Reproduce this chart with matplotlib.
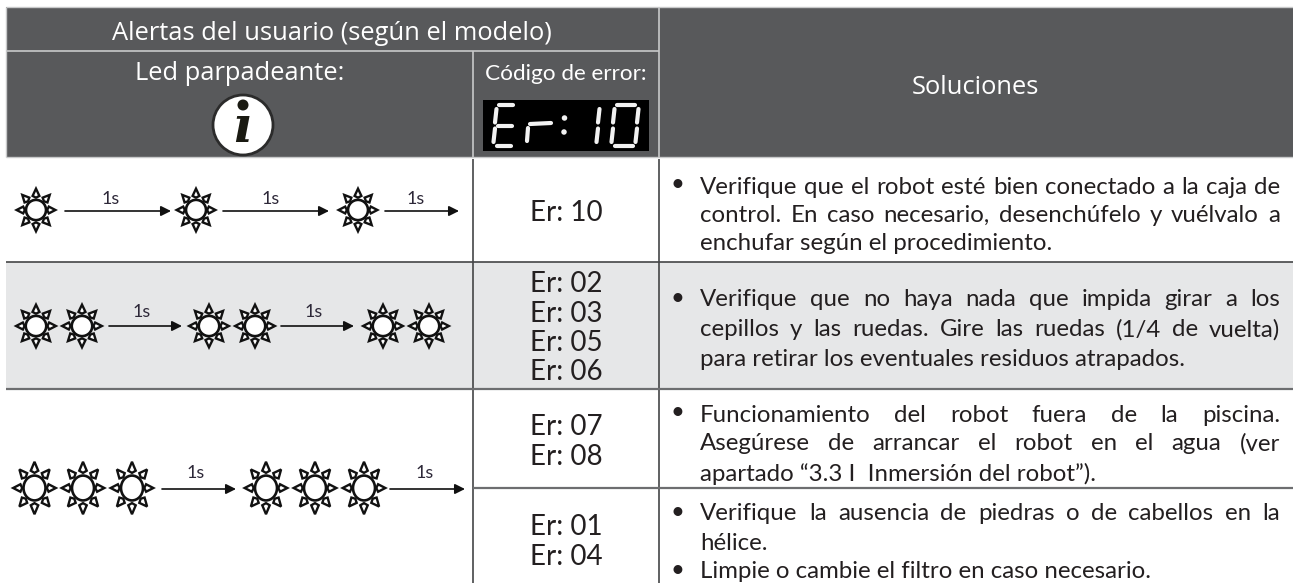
import matplotlib
matplotlib.use('Agg')
import matplotlib.pyplot as plt
from matplotlib.patches import Rectangle, Ellipse, Polygon
import numpy as np

plt.rcParams['font.family'] = ['Lato', 'DejaVu Sans']

# Teksty tabeli
header_top = 'Alertas del usuario (según el modelo)'
header_led = 'Led parpadeante:'
header_code = 'Código de error:'
header_sol = 'Soluciones'

codes_row1 = ['Er: 10']
codes_row2 = ['Er: 02', 'Er: 03', 'Er: 05', 'Er: 06']
codes_row3 = ['Er: 07', 'Er: 08']
codes_row4 = ['Er: 01', 'Er: 04']

# (tekst, wyjustowany, czy punktor)
sol_row1 = [('Verifique que el robot esté bien conectado a la caja de', True, True),
            ('control. En caso necesario, desenchúfelo y vuélvalo a', True, False),
            ('enchufar según el procedimiento.', False, False)]
sol_row2 = [('Verifique que no haya nada que impida girar a los', True, True),
            ('cepillos y las ruedas. Gire las ruedas (1/4 de vuelta)', True, False),
            ('para retirar los eventuales residuos atrapados.', False, False)]
sol_row3 = [('Funcionamiento del robot fuera de la piscina.', True, True),
            ('Asegúrese de arrancar el robot en el agua (ver', True, False),
            ('apartado “3.3 I  Inmersión del robot”).', False, False)]
sol_row4 = [('Verifique la ausencia de piedras o de cabellos en la', True, True),
            ('hélice.', False, False),
            ('Limpie o cambie el filtro en caso necesario.', False, True)]

DARK = '#58595b'
GREY = '#e6e7e8'
INK = '#231f20'
OPEN = ['Open Sans', 'DejaVu Sans']

fig = plt.figure(figsize=(12.93, 5.83), dpi=100)
ax = fig.add_axes([0, 0, 1, 1])
ax.set_xlim(0, 1293)
ax.set_ylim(583, 0)
ax.axis('off')

X0, X1, X2, X3 = 6, 473, 659, 1293
Y = [7, 51, 157, 262, 389, 488, 583]


def rect(x0, y0, x1, y1, fc):
    ax.add_patch(Rectangle((x0, y0), x1 - x0, y1 - y0, fc=fc, ec='none', zorder=1))


def line(xs, ys, c=DARK, lw=1.5):
    ax.plot(xs, ys, color=c, lw=lw, solid_capstyle='butt', zorder=2)


# Tla
rect(X0, Y[0], X3, Y[2], DARK)
rect(X0, Y[3], X3, Y[4], GREY)

# Linie naglowka
line([X0, X2], [Y[1], Y[1]], '#c8c9ca', 1.2)
line([X1, X1], [Y[1], Y[2]], '#c8c9ca', 1.2)
line([X2, X2], [Y[0], Y[2]], '#c8c9ca', 1.2)
line([X0, X3], [Y[0], Y[0]], '#c8c9ca', 1.0)
line([X0, X0], [Y[0], Y[2]], '#c8c9ca', 1.0)
line([X0, X3], [Y[2], Y[2]], '#c8c9ca', 1.0)

# Linie tabeli
line([X1, X1], [Y[2] + 2, Y[6]], '#444547', 1.2)
line([X2, X2], [Y[2] + 2, Y[6]], '#444547', 1.2)
line([X0, X3], [Y[3], Y[3]], '#444547', 1.2)
line([X0, X3], [Y[4], Y[4]], '#6d6e70', 1.6)
line([X1, X3], [Y[5], Y[5]], '#6d6e70', 1.6)

# Naglowki
ax.text(332, 33, header_top, color='white', fontsize=18.4, family=OPEN, ha='center', va='center', zorder=3)
ax.text(240, 74, header_led, color='white', fontsize=18.4, family=OPEN, ha='center', va='center', zorder=3)
ax.text(566, 74, header_code, color='white', fontsize=16.2, ha='center', va='center', zorder=3)
ax.text(975, 87, header_sol, color='white', fontsize=18.4, family=OPEN, ha='center', va='center', zorder=3)

# Ikona informacji
ax.add_patch(Ellipse((243, 125), 60, 60, fc='white', ec='#2b2b2b', lw=2.0, zorder=3))
ax.add_patch(Ellipse((243, 105), 11, 11, fc='#1a1a12', ec='none', zorder=4))
ax.text(242, 129, 'ı', color='#1a1a12', fontsize=36, family='DejaVu Serif', style='italic', weight='bold',
        ha='center', va='center', zorder=4)

# Wyswietlacz LED
rect(483, 100, 649, 151, 'black')
SEGMENTS = {
    'E': 'afged',
    '1': 'ef',
    '0': 'abcdef',
}


def seven_seg(ch, x0, x1, y0, y1):
    ym = (y0 + y1) / 2
    s = 1.5
    pts = {
        'a': ((x0 + 4, y0), (x1 - 2, y0)),
        'g': ((x0 + 3, ym), (x1 - 3, ym)),
        'd': ((x0 + 2, y1), (x1 - 4, y1)),
        'f': ((x0 + s, y0 + 4), (x0, ym - 3)),
        'e': ((x0, ym + 3), (x0 - s, y1 - 4)),
        'b': ((x1 + s, y0 + 4), (x1, ym - 3)),
        'c': ((x1, ym + 3), (x1 - s, y1 - 4)),
    }
    for k in SEGMENTS[ch]:
        (xa, ya), (xb, yb) = pts[k]
        ax.plot([xa, xb], [ya, yb], color='#f2f2f2', lw=3.0, solid_capstyle='round', zorder=4)


seven_seg('E', 495, 515, 105, 146)
ax.plot([528, 527], [128, 141], color='#f2f2f2', lw=3.0, solid_capstyle='round', zorder=4)
ax.plot([530, 551], [124, 123], color='#f2f2f2', lw=3.0, solid_capstyle='round', zorder=4)
ax.add_patch(Ellipse((564.5, 118), 5.5, 5.5, fc='#f2f2f2', ec='none', zorder=4))
ax.add_patch(Ellipse((564, 132), 5.5, 5.5, fc='#f2f2f2', ec='none', zorder=4))
seven_seg('1', 598, 598, 105, 146)
seven_seg('0', 613, 637, 105, 146)


# Slonca
def sun(cx, cy, rx, ry):
    bx, by = rx * 0.5, ry * 0.46
    c = np.array([cx, cy])
    sc = np.array([rx, ry])
    for i in range(8):
        a = i * np.pi / 4
        u = np.array([np.sin(a), -np.cos(a)])
        n = np.array([u[1], -u[0]])
        base = u * sc * 0.64
        pts = [c + base + n * rx * 0.17, c + u * sc * 0.97, c + base - n * rx * 0.17, c + u * sc * 0.56]
        ax.add_patch(Polygon(pts, closed=True, fc='white', ec='#111111', lw=1.7, joinstyle='miter', zorder=3))
    ax.add_patch(Ellipse((cx, cy), 2 * bx, 2 * by, fc='white', ec='#111111', lw=1.9, zorder=4))


def arrow(xa, xb, y, label, lx, ly):
    ax.annotate('', xy=(xb, y), xytext=(xa, y), zorder=4,
                arrowprops=dict(arrowstyle='-|>,head_length=0.6,head_width=0.3', color='#111111', lw=1.2,
                                shrinkA=0, shrinkB=0))
    ax.text(lx, ly, label, color='#2d2838', fontsize=13, ha='center', va='center', zorder=4)


# Wiersz 1
for sx in [36, 196, 358]:
    sun(sx, 210, 20, 22)
arrow(65, 171, 211, '1s', 111, 199)
arrow(223, 329, 211, '1s', 271, 199)
arrow(385, 459, 211, '1s', 416, 199)

# Wiersz 2
for sx in [36, 82, 209, 255, 383, 429]:
    sun(sx, 326, 20.5, 22)
arrow(109, 182, 326, '1s', 142, 312)
arrow(281, 354, 326, '1s', 314, 312)

# Wiersz 3
for sx in [34.5, 83, 132, 266, 315, 364]:
    sun(sx, 488, 22, 27)
arrow(162, 236, 489, '1s', 196, 473)
arrow(390, 465, 489, '1s', 425, 473)

# Kody bledow
code_rows = [(codes_row1, [213]), (codes_row2, [284, 314, 343, 372]), (codes_row3, [427, 457]), (codes_row4, [527, 557])]
for labels, ys in code_rows:
    for lab, yy in zip(labels, ys):
        ax.text(566, yy, lab, color=INK, fontsize=20, ha='center', va='center', zorder=3)

# Rozwiazania, tekst justowany slowo po slowie
TX0, TX1, BX = 700, 1280, 677
FS = 17.3
renderer = fig.canvas.get_renderer()


def sol_line(txt, justified, bullet, y):
    if bullet:
        ax.text(BX, y, '•', color=INK, fontsize=FS, ha='center', va='center', zorder=3)
    if not justified:
        ax.text(TX0, y, txt, color=INK, fontsize=FS, ha='left', va='center_baseline', zorder=3)
        return
    words = txt.split(' ')
    arts = [ax.text(0, y, w, color=INK, fontsize=FS, ha='left', va='center_baseline', zorder=3) for w in words]
    widths = [a.get_window_extent(renderer).width for a in arts]
    gap = (TX1 - TX0 - sum(widths)) / (len(words) - 1)
    x = TX0
    for a, w in zip(arts, widths):
        a.set_x(x)
        x += w + gap


sol_rows = [(sol_row1, [185, 213, 242]), (sol_row2, [298, 328, 357]), (sol_row3, [413, 442, 472]), (sol_row4, [512, 542, 570])]
for lines, ys in sol_rows:
    for (txt, just, bul), yy in zip(lines, ys):
        sol_line(txt, just, bul, yy)

fig.savefig('out.png', dpi=100)
